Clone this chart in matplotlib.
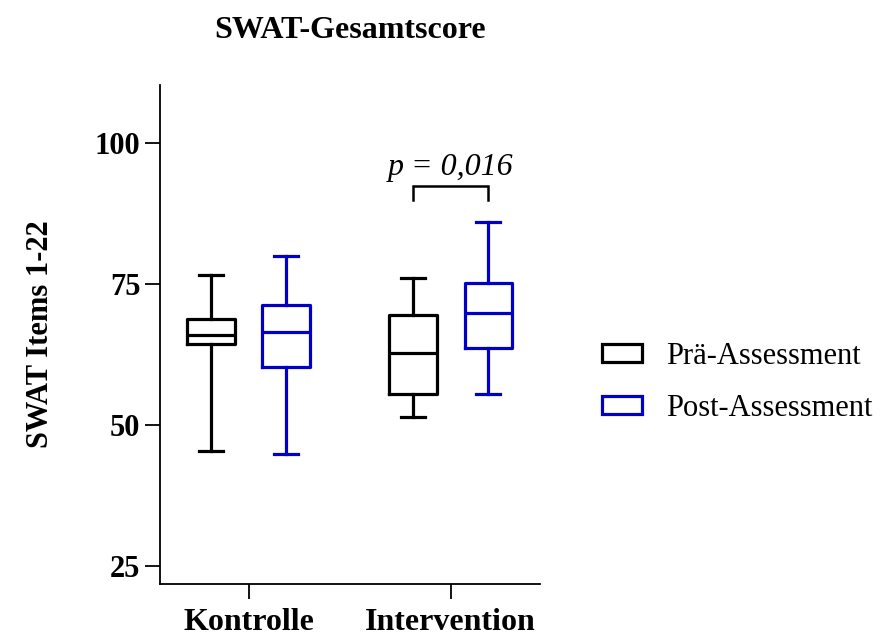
import matplotlib
matplotlib.use('Agg')
import matplotlib.pyplot as plt
from matplotlib.patches import Patch

plt.rcParams['font.family'] = ['Liberation Serif', 'DejaVu Serif']

# %%
groups = ['Kontrolle', 'Intervention']
series = ['Prä-Assessment', 'Post-Assessment']
colors = ['#000000', '#0000C8']

# five-number summaries per group (whisker low, Q1, median, Q3, whisker high)
pre_lo = [45.4, 51.5]
pre_q1 = [64.3, 55.6]
pre_med = [66.0, 62.7]
pre_q3 = [68.8, 69.5]
pre_hi = [76.5, 76.0]

post_lo = [44.9, 55.5]
post_q1 = [60.3, 63.7]
post_med = [66.5, 69.9]
post_q3 = [71.3, 75.2]
post_hi = [80.0, 85.9]

p_text = 'p = 0,016'
y_ticks = [25, 50, 75, 100]


def make_stats(lo, q1, med, q3, hi):
    return [
        {'whislo': a, 'q1': b, 'med': c, 'q3': d, 'whishi': e, 'fliers': []}
        for a, b, c, d, e in zip(lo, q1, med, q3, hi)
    ]


# %%
fig = plt.figure(figsize=(8.84, 6.37), dpi=100)
ax = fig.add_axes([0.181, 0.0832, 0.430, 0.7834])

offset = 0.187
width = 0.236
all_stats = [
    make_stats(pre_lo, pre_q1, pre_med, pre_q3, pre_hi),
    make_stats(post_lo, post_q1, post_med, post_q3, post_hi),
]
for i, (stats, col) in enumerate(zip(all_stats, colors)):
    pos = [g + (i * 2 - 1) * offset for g in range(len(groups))]
    line = dict(color=col, linewidth=2.3)
    ax.bxp(
        stats,
        positions=pos,
        widths=width,
        showfliers=False,
        boxprops=line,
        medianprops=line,
        whiskerprops=line,
        capprops=line,
        capwidths=width / 2,
        manage_ticks=False,
    )

# significance bracket over Intervention
x1, x2 = 1 - offset, 1 + offset
ax.plot([x1, x1, x2, x2], [89.8, 92.4, 92.4, 89.8], color='black', lw=1.8,
        solid_joinstyle='miter', clip_on=False)
ax.text(1, 94.2, p_text, ha='center', va='baseline', fontsize=23, style='italic')

ax.set_xlim(-0.438, 1.443)
ax.set_ylim(21.9, 110.2)
ax.set_xticks(range(len(groups)))
ax.set_xticklabels(groups, fontsize=23, fontweight='bold')
ax.set_yticks(y_ticks)
ax.set_yticklabels([str(t) for t in y_ticks], fontsize=22, fontweight='bold')
ax.tick_params(axis='both', length=11, width=1.3, pad=3)
ax.tick_params(axis='x', pad=6)
ax.spines[['top', 'right']].set_visible(False)
ax.spines[['left', 'bottom']].set_linewidth(1.3)
ax.set_ylabel('SWAT Items 1-22', fontsize=22, fontweight='bold', labelpad=29)
ax.set_title('SWAT-Gesamtscore', fontsize=23, fontweight='bold', pad=34)

handles = [Patch(facecolor='white', edgecolor=c, linewidth=2.3) for c in colors]
fig.legend(
    handles, series,
    loc='center left',
    bbox_to_anchor=(0.650, 0.400),
    frameon=False,
    fontsize=22,
    handlelength=1.3,
    handleheight=0.5,
    handletextpad=0.8,
    labelspacing=0.75,
)

fig.savefig('out.png', dpi=100)
